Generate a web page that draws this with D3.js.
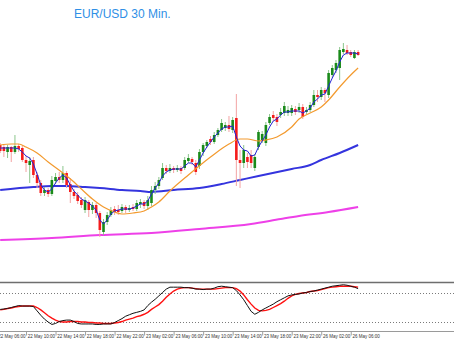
<!DOCTYPE html>
<html>
<head>
<meta charset="utf-8">
<script src="https://cdnjs.cloudflare.com/ajax/libs/d3/7.8.5/d3.min.js"></script>
<style>
  html, body { margin: 0; padding: 0; background: #fff; }
  svg { display: block; }
</style>
</head>
<body>
<svg id="chart" width="454" height="341"></svg>
<script>
// EUR/USD, 30-minute bars, 22 May 06:30 .. 26 May 07:00 (bar numbers 1..98)
const title = "EUR/USD 30 Min.";

const open = [1.36475,1.36465,1.36440,1.36465,1.36440,1.36470,1.36460,1.36400,1.36375,1.36400,
  1.36325,1.36285,1.36235,1.36250,1.36230,1.36295,1.36315,1.36300,1.36335,1.36280,
  1.36240,1.36225,1.36200,1.36150,1.36190,1.36150,1.36175,1.36135,1.36040,1.36090,
  1.36125,1.36155,1.36150,1.36145,1.36165,1.36150,1.36165,1.36155,1.36180,1.36190,
  1.36170,1.36185,1.36250,1.36270,1.36310,1.36360,1.36345,1.36360,1.36350,1.36360,
  1.36360,1.36395,1.36405,1.36385,1.36370,1.36440,1.36470,1.36505,1.36490,1.36525,
  1.36550,1.36560,1.36575,1.36550,1.36610,1.36400,1.36385,1.36415,1.36425,1.36360,
  1.36465,1.36500,1.36485,1.36585,1.36625,1.36615,1.36625,1.36635,1.36635,1.36635,
  1.36655,1.36650,1.36665,1.36640,1.36650,1.36675,1.36725,1.36715,1.36750,1.36725,
  1.36825,1.36850,1.36860,1.36940,1.36950,1.36940,1.36910,1.36940];
const high = [1.36485,1.36475,1.36475,1.36470,1.36525,1.36480,1.36470,1.36420,1.36415,1.36415,
  1.36340,1.36300,1.36265,1.36260,1.36320,1.36335,1.36340,1.36370,1.36345,1.36310,
  1.36255,1.36240,1.36215,1.36215,1.36200,1.36190,1.36185,1.36145,1.36105,1.36140,
  1.36165,1.36170,1.36175,1.36180,1.36175,1.36175,1.36180,1.36200,1.36205,1.36200,
  1.36220,1.36270,1.36290,1.36315,1.36385,1.36375,1.36380,1.36370,1.36375,1.36370,
  1.36415,1.36430,1.36415,1.36400,1.36455,1.36485,1.36500,1.36520,1.36540,1.36560,
  1.36605,1.36590,1.36620,1.36615,1.36730,1.36450,1.36475,1.36435,1.36450,1.36430,
  1.36550,1.36545,1.36590,1.36630,1.36645,1.36630,1.36660,1.36690,1.36670,1.36675,
  1.36670,1.36685,1.36680,1.36665,1.36690,1.36750,1.36750,1.36765,1.36760,1.36850,
  1.36875,1.36900,1.36965,1.36985,1.36975,1.36950,1.36950,1.36950];
const low = [1.36435,1.36415,1.36410,1.36390,1.36430,1.36440,1.36390,1.36340,1.36285,1.36310,
  1.36260,1.36220,1.36220,1.36215,1.36220,1.36280,1.36285,1.36285,1.36260,1.36185,
  1.36205,1.36180,1.36160,1.36135,1.36115,1.36130,1.36110,1.36015,1.36025,1.36075,
  1.36115,1.36125,1.36125,1.36135,1.36135,1.36140,1.36145,1.36145,1.36160,1.36155,
  1.36150,1.36170,1.36230,1.36255,1.36300,1.36330,1.36335,1.36335,1.36340,1.36330,
  1.36350,1.36385,1.36375,1.36325,1.36355,1.36420,1.36460,1.36475,1.36480,1.36515,
  1.36540,1.36545,1.36540,1.36535,1.36270,1.36260,1.36360,1.36360,1.36360,1.36345,
  1.36450,1.36485,1.36470,1.36575,1.36595,1.36570,1.36610,1.36620,1.36620,1.36620,
  1.36625,1.36635,1.36605,1.36630,1.36640,1.36665,1.36690,1.36700,1.36690,1.36710,
  1.36810,1.36835,1.36800,1.36930,1.36925,1.36915,1.36905,1.36920];
const close = [1.36445,1.36445,1.36465,1.36440,1.36470,1.36455,1.36400,1.36385,1.36395,1.36325,
  1.36285,1.36235,1.36250,1.36230,1.36300,1.36315,1.36300,1.36335,1.36275,1.36240,
  1.36220,1.36195,1.36175,1.36200,1.36150,1.36175,1.36135,1.36050,1.36090,1.36125,
  1.36150,1.36140,1.36140,1.36165,1.36150,1.36160,1.36155,1.36185,1.36190,1.36170,
  1.36200,1.36250,1.36270,1.36300,1.36360,1.36345,1.36360,1.36350,1.36360,1.36345,
  1.36400,1.36410,1.36390,1.36340,1.36440,1.36475,1.36490,1.36490,1.36525,1.36550,
  1.36585,1.36575,1.36555,1.36600,1.36400,1.36385,1.36450,1.36390,1.36385,1.36415,
  1.36540,1.36530,1.36575,1.36615,1.36610,1.36590,1.36640,1.36670,1.36650,1.36660,
  1.36640,1.36665,1.36615,1.36650,1.36675,1.36725,1.36715,1.36750,1.36735,1.36835,
  1.36860,1.36885,1.36950,1.36955,1.36935,1.36925,1.36940,1.36925];

// Fast moving average, one value per bar
const maFast = [1.36460,1.36460,1.36460,1.36460,1.36460,1.36455,1.36440,1.36420,1.36410,1.36380,
  1.36330,1.36275,1.36250,1.36240,1.36255,1.36285,1.36310,1.36325,1.36310,1.36275,
  1.36245,1.36225,1.36205,1.36195,1.36185,1.36170,1.36150,1.36100,1.36080,1.36100,
  1.36130,1.36145,1.36150,1.36155,1.36155,1.36155,1.36160,1.36170,1.36180,1.36180,
  1.36195,1.36230,1.36260,1.36285,1.36320,1.36340,1.36350,1.36355,1.36355,1.36355,
  1.36370,1.36385,1.36385,1.36365,1.36400,1.36435,1.36465,1.36490,1.36515,1.36535,
  1.36555,1.36565,1.36565,1.36570,1.36515,1.36470,1.36450,1.36445,1.36420,1.36425,
  1.36465,1.36495,1.36525,1.36565,1.36595,1.36605,1.36625,1.36640,1.36640,1.36645,
  1.36645,1.36645,1.36635,1.36645,1.36660,1.36690,1.36705,1.36725,1.36730,1.36770,
  1.36810,1.36845,1.36890,1.36925,1.36935,1.36935,1.36935,1.36930];

// Slower averages, sampled at the listed bar numbers
const maMidBar = [1,4,6,8,11,14,18,21,23,26,29,32,34,37,40,42,44,47,52,58,63,66,68,71,73,76,80,82,85,88,90,93,96,98];
const maMid = [1.36475,1.36480,1.36480,1.36465,1.36435,1.36390,1.36335,1.36290,1.36255,1.36205,
  1.36165,1.36140,1.36130,1.36135,1.36145,1.36165,1.36190,1.36245,1.36325,1.36415,
  1.36480,1.36505,1.36505,1.36495,1.36500,1.36515,1.36565,1.36605,1.36635,1.36665,
  1.36700,1.36765,1.36825,1.36860];
const ma100Bar = [1,10,15,19,24,28,34,39,42,48,55,61,66,71,80,85,88,93,98];
const ma100 = [1.36250,1.36265,1.36270,1.36270,1.36265,1.36260,1.36250,1.36245,1.36240,1.36250,
  1.36260,1.36280,1.36300,1.36320,1.36355,1.36375,1.36400,1.36435,1.36475];
const ma200Bar = [1,15,28,42,55,69,77,82,90,98];
const ma200 = [1.36000,1.36010,1.36025,1.36035,1.36055,1.36080,1.36105,1.36120,1.36140,1.36165];

// Stochastic oscillator %K and %D, one value per bar
const stochK = [46,47,48,50,52,54,53,53,53,52,43,34,26,20,15,17,21,23,24,24,
  21,17,16,16,16,16,15,15,16,16,16,19,23,27,32,35,38,40,42,45,
  54,61,67,74,81,88,92,92,92,92,91,91,90,88,88,87,88,88,90,93,
  94,93,92,91,85,76,66,54,42,36,40,45,49,53,57,62,66,70,74,76,
  77,78,80,81,83,84,86,88,90,92,94,95,96,97,96,94,92,89];
const stochD = [45,46,48,49,51,52,53,53,53,53,50,45,39,33,28,24,21,20,20,21,
  21,21,20,20,19,19,18,18,17,17,17,18,19,21,24,26,28,31,33,36,
  40,46,51,56,63,71,78,84,88,90,91,91,90,89,88,88,88,88,88,89,
  90,91,91,91,89,84,76,66,57,49,44,43,44,46,50,54,58,63,69,74,
  77,79,80,81,83,84,85,87,89,91,92,93,94,94,94,94,93,92];
const stochLevels = [80, 20];

// Time axis: a label every 8 bars, starting at bar 0
const timeLabels = ["22 May 06:00","22 May 10:00","22 May 14:00","22 May 18:00","22 May 22:00",
  "23 May 02:00","23 May 06:00","23 May 10:00","23 May 14:00","23 May 18:00","23 May 22:00",
  "26 May 02:00","26 May 06:00"];
const labelStep = 8;

// ---------------------------------------------------------------
const W = 454, H = 341;
const svg = d3.select("#chart");

const bars = d3.range(1, close.length + 1);
const x = d3.scaleLinear().domain([0, 96]).range([-3.5, 350.74]);
const y = d3.scaleLinear().domain([1.36, 1.37]).range([240, 40]);
const ys = d3.scaleLinear().domain([0, 100]).range([331.7, 283.3]);

const GREEN = "#1a8a1a", RED = "#f51b1b";
const GREEN_WICK = "#8cc68c", RED_WICK = "#f3a3a3";

// title
svg.append("text")
  .attr("x", 74).attr("y", 17.5)
  .attr("font-family", "Arial, 'Liberation Sans', sans-serif")
  .attr("font-size", 12)
  .attr("fill", "#2f8fe6")
  .text(title);

// price panel
const main = svg.append("g");
main.append("clipPath").attr("id", "mainClip")
  .append("rect").attr("x", 0).attr("y", 0).attr("width", W).attr("height", 281);
const pg = main.append("g").attr("clip-path", "url(#mainClip)");

// long averages
const line = (bx, vals, curve) => d3.line()
  .x((d, i) => x(bx[i])).y(d => y(d)).curve(curve)(vals);

pg.append("path").attr("d", line(ma200Bar, ma200, d3.curveMonotoneX))
  .attr("fill", "none").attr("stroke", "#ee40e8").attr("stroke-width", 2);
pg.append("path").attr("d", line(ma100Bar, ma100, d3.curveMonotoneX))
  .attr("fill", "none").attr("stroke", "#3434de").attr("stroke-width", 2);

// candles
const cg = pg.append("g");
bars.forEach((b, i) => {
  const up = close[i] >= open[i];
  cg.append("line")
    .attr("x1", x(b)).attr("x2", x(b))
    .attr("y1", y(high[i])).attr("y2", y(low[i]))
    .attr("stroke", up ? GREEN_WICK : RED_WICK).attr("stroke-width", 1);
  const top = y(Math.max(open[i], close[i]));
  const bot = y(Math.min(open[i], close[i]));
  cg.append("rect")
    .attr("x", x(b) - 1.3).attr("width", 2.6)
    .attr("y", top).attr("height", Math.max(1, bot - top))
    .attr("fill", up ? GREEN : RED);
});

// shorter averages on top of the candles
pg.append("path").attr("d", line(maMidBar, maMid, d3.curveMonotoneX))
  .attr("fill", "none").attr("stroke", "#f39a2e").attr("stroke-width", 1.2);
pg.append("path").attr("d", line(bars, maFast, d3.curveLinear))
  .attr("fill", "none").attr("stroke", "#2323d4").attr("stroke-width", 1);

// oscillator panel
const og = svg.append("g");
og.append("line").attr("x1", 0).attr("x2", W).attr("y1", 282.5).attr("y2", 282.5)
  .attr("stroke", "#6e6e6e").attr("stroke-width", 1.5);
og.append("line").attr("x1", 0).attr("x2", W).attr("y1", 331.5).attr("y2", 331.5)
  .attr("stroke", "#9a9a9a").attr("stroke-width", 1);
og.selectAll("line.level").data(stochLevels).enter().append("line")
  .attr("class", "level")
  .attr("x1", 0).attr("x2", W)
  .attr("y1", d => Math.round(ys(d)) + 0.5).attr("y2", d => Math.round(ys(d)) + 0.5)
  .attr("stroke", "#7a7a7a").attr("stroke-width", 1).attr("stroke-dasharray", "1,2");

const sline = d3.line().x((d, i) => x(bars[i])).y(d => ys(d));
og.append("path").attr("d", sline(stochD))
  .attr("fill", "none").attr("stroke", "#ff1010").attr("stroke-width", 1.4);
og.append("path").attr("d", sline(stochK))
  .attr("fill", "none").attr("stroke", "#111").attr("stroke-width", 1);

// time axis labels with small ticks
const tg = svg.append("g");
timeLabels.forEach((t, k) => {
  const bx = x(k * labelStep);
  tg.append("line").attr("x1", bx + 0.5).attr("x2", bx + 0.5)
    .attr("y1", 332).attr("y2", 335.5)
    .attr("stroke", "#888").attr("stroke-width", 0.8);
  tg.append("text")
    .attr("x", bx + 1.8).attr("y", 338.3)
    .attr("font-family", "Arial, 'Liberation Sans', sans-serif")
    .attr("font-size", 4.5)
    .attr("fill", "#333")
    .text(t);
});
</script>
</body>
</html>
